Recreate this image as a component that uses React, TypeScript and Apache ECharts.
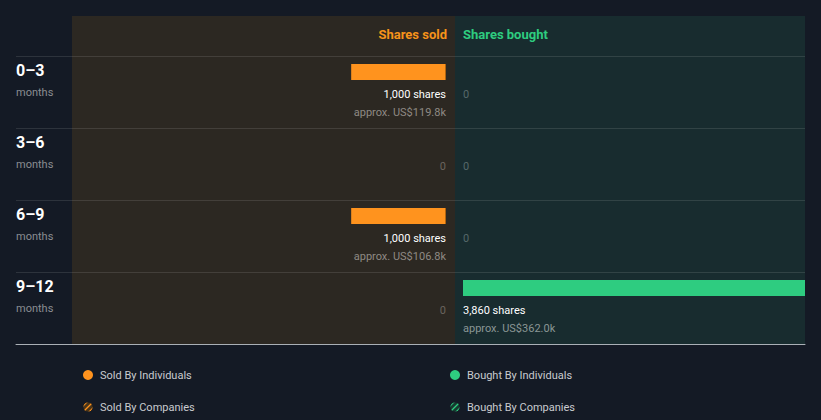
import React, { useEffect, useRef } from "react";
import * as echarts from "echarts";

const periods = ["0–3", "3–6", "6–9", "9–12"];
const periodUnit = "months";
const soldShares = [1000, 0, 1000, 0];
const soldValueK = [119.8, 0, 106.8, 0];
const boughtShares = [0, 0, 0, 3860];
const boughtValueK = [0, 0, 0, 362.0];
const headerSold = "Shares sold";
const headerBought = "Shares bought";
const legendSold = ["Sold By Individuals", "Sold By Companies"];
const legendBought = ["Bought By Individuals", "Bought By Companies"];

const ORANGE = "#ff931e";
const GREEN = "#2ecc80";
const FONT = "Roboto, 'Noto Sans', sans-serif";

function hatchIcon(bg: string, fg: string) {
  const svg =
    "<svg xmlns='http://www.w3.org/2000/svg' width='10' height='10' viewBox='0 0 10 10'>" +
    "<defs><clipPath id='c'><circle cx='5' cy='5' r='4.6'/></clipPath></defs>" +
    "<g clip-path='url(#c)'><rect width='10' height='10' fill='" + bg + "'/>" +
    "<path d='M-1 5 L5 -1 M0 10 L10 0 M5 11 L11 5' stroke='" + fg + "' stroke-width='1.3'/></g></svg>";
  return "image://data:image/svg+xml;charset=utf-8," + encodeURIComponent(svg);
}

function fmtShares(v: number) {
  return v.toLocaleString("en-US") + " shares";
}
function fmtUsd(k: number) {
  return "approx. US$" + k.toFixed(1) + "k";
}

function makeRender(side: "left" | "right") {
  return (params: any, api: any) => {
    const v = api.value(0);
    const idx = api.value(1);
    const usd = api.value(2);
    const base = api.coord([0, idx]);
    const end = api.coord([v, idx]);
    const band = api.size([0, 1])[1];
    const top = base[1] - band / 2;
    const align = side === "left" ? "right" : "left";
    const children: any[] = [];
    const txt = (text: string, y: number, fill: string, font: string) => ({
      type: "text",
      x: base[0],
      y,
      style: {
        text,
        fill,
        font,
        align,
        textAlign: align,
        verticalAlign: "middle",
        textVerticalAlign: "middle",
      },
    });
    if (v > 0) {
      const x0 = Math.min(base[0], end[0]);
      const w = Math.abs(end[0] - base[0]);
      children.push({
        type: "rect",
        shape: { x: x0, y: top + 8, width: w, height: 16 },
        style: { fill: side === "left" ? ORANGE : GREEN },
      });
      if (side === "left") {
        children.push({
          type: "rect",
          shape: { x: base[0] - 1, y: top + 8, width: 1, height: 16 },
          style: { fill: "#b0640f" },
        });
      }
      children.push(txt(fmtShares(v), top + 38, "#ffffff", "11px " + FONT));
      children.push(
        txt(fmtUsd(usd), top + 56, side === "left" ? "#8f8a84" : "#8a9695", "11px " + FONT)
      );
    } else {
      children.push(txt("0", top + 38, side === "left" ? "#6a645e" : "#56686a", "11px " + FONT));
    }
    return { type: "group", children };
  };
}

export default function App() {
  const ref = useRef<HTMLDivElement>(null);
  useEffect(() => {
    if (!ref.current) return;
    const chart = echarts.init(ref.current, undefined, { renderer: "svg" });
    const maxShares = Math.max(...soldShares, ...boughtShares);
    const soldData = soldShares.map((v, i) => [v, i, soldValueK[i]]);
    const boughtData = boughtShares.map((v, i) => [v, i, boughtValueK[i]]);
    const legendCommon = {
      top: 368,
      orient: "vertical",
      padding: 0,
      itemWidth: 10,
      itemHeight: 10,
      itemGap: 18,
      selectedMode: false,
      textStyle: { color: "#c9cbcf", fontSize: 11, fontFamily: FONT, lineHeight: 14, padding: [0, 0, 0, 2] },
    };
    chart.setOption({
      animation: false,
      backgroundColor: "#141a25",
      textStyle: { fontFamily: FONT },
      grid: [
        { left: 80, right: 375, top: 56, height: 288 },
        { left: 463, right: 16, top: 56, height: 288 },
        { left: 16, right: 16, top: 56, height: 288 },
      ],
      xAxis: [
        { gridIndex: 0, type: "value", min: 0, max: maxShares, inverse: true, show: false },
        { gridIndex: 1, type: "value", min: 0, max: maxShares, show: false },
        {
          gridIndex: 2,
          type: "value",
          min: 0,
          max: 1,
          position: "bottom",
          axisLine: { show: true, lineStyle: { color: "#aab0b6", width: 1 } },
          axisTick: { show: false },
          axisLabel: { show: false },
          splitLine: { show: false },
        },
      ],
      yAxis: [
        { gridIndex: 0, type: "category", data: periods, inverse: true, show: false },
        { gridIndex: 1, type: "category", data: periods, inverse: true, show: false },
        {
          gridIndex: 2,
          type: "category",
          data: periods,
          inverse: true,
          axisLine: { show: false },
          axisTick: { show: false },
          splitLine: { show: true, interval: 0, lineStyle: { color: "rgba(255,255,255,0.11)", width: 1 } },
          axisLabel: {
            inside: true,
            margin: 0,
            interval: 0,
            formatter: (v: string) => `{a|${v}}\n{b|${periodUnit}}`,
            padding: [0, 0, 22, 0],
            rich: {
              a: { fontSize: 16, fontWeight: "bold", color: "#ffffff", lineHeight: 22, fontFamily: FONT },
              b: { fontSize: 11, color: "#8a8d92", lineHeight: 22, fontFamily: FONT },
            },
          },
        },
      ],
      graphic: [
        {
          type: "rect",
          z: -10,
          silent: true,
          shape: { x: 72, y: 16, width: 383, height: 328 },
          style: { fill: "#2c2822" },
        },
        {
          type: "rect",
          z: -10,
          silent: true,
          shape: { x: 455, y: 16, width: 350, height: 328 },
          style: { fill: "#182c2f" },
        },
        {
          type: "text",
          x: 447,
          y: 34,
          style: {
            text: headerSold,
            fill: "#f7931a",
            font: "bold 13px " + FONT,
            align: "right",
            textAlign: "right",
            verticalAlign: "middle",
            textVerticalAlign: "middle",
          },
        },
        {
          type: "text",
          x: 463,
          y: 34,
          style: {
            text: headerBought,
            fill: "#2ecc80",
            font: "bold 13px " + FONT,
            align: "left",
            textAlign: "left",
            verticalAlign: "middle",
            textVerticalAlign: "middle",
          },
        },
      ],
      legend: [
        {
          ...legendCommon,
          left: 83,
          data: [
            { name: legendSold[0], icon: "circle", itemStyle: { color: ORANGE } },
            { name: legendSold[1], icon: hatchIcon("#4a3519", ORANGE) },
          ],
        },
        {
          ...legendCommon,
          left: 450,
          data: [
            { name: legendBought[0], icon: "circle", itemStyle: { color: GREEN } },
            { name: legendBought[1], icon: hatchIcon("#173a30", GREEN) },
          ],
        },
      ],
      series: [
        {
          name: legendSold[0],
          type: "custom",
          xAxisIndex: 0,
          yAxisIndex: 0,
          itemStyle: { color: ORANGE },
          encode: { x: 0, y: 1 },
          renderItem: makeRender("left"),
          data: soldData,
        },
        {
          name: legendBought[0],
          type: "custom",
          xAxisIndex: 1,
          yAxisIndex: 1,
          itemStyle: { color: GREEN },
          encode: { x: 0, y: 1 },
          renderItem: makeRender("right"),
          data: boughtData,
        },
        {
          name: legendSold[1],
          type: "custom",
          xAxisIndex: 0,
          yAxisIndex: 0,
          itemStyle: { color: ORANGE },
          renderItem: () => ({ type: "group", children: [] }),
          data: [],
        },
        {
          name: legendBought[1],
          type: "custom",
          xAxisIndex: 1,
          yAxisIndex: 1,
          itemStyle: { color: GREEN },
          renderItem: () => ({ type: "group", children: [] }),
          data: [],
        },
      ],
    });
    return () => chart.dispose();
  }, []);
  return (
    <div
      ref={ref}
      style={{ position: "fixed", left: 0, top: 0, width: 821, height: 420 }}
    />
  );
}
